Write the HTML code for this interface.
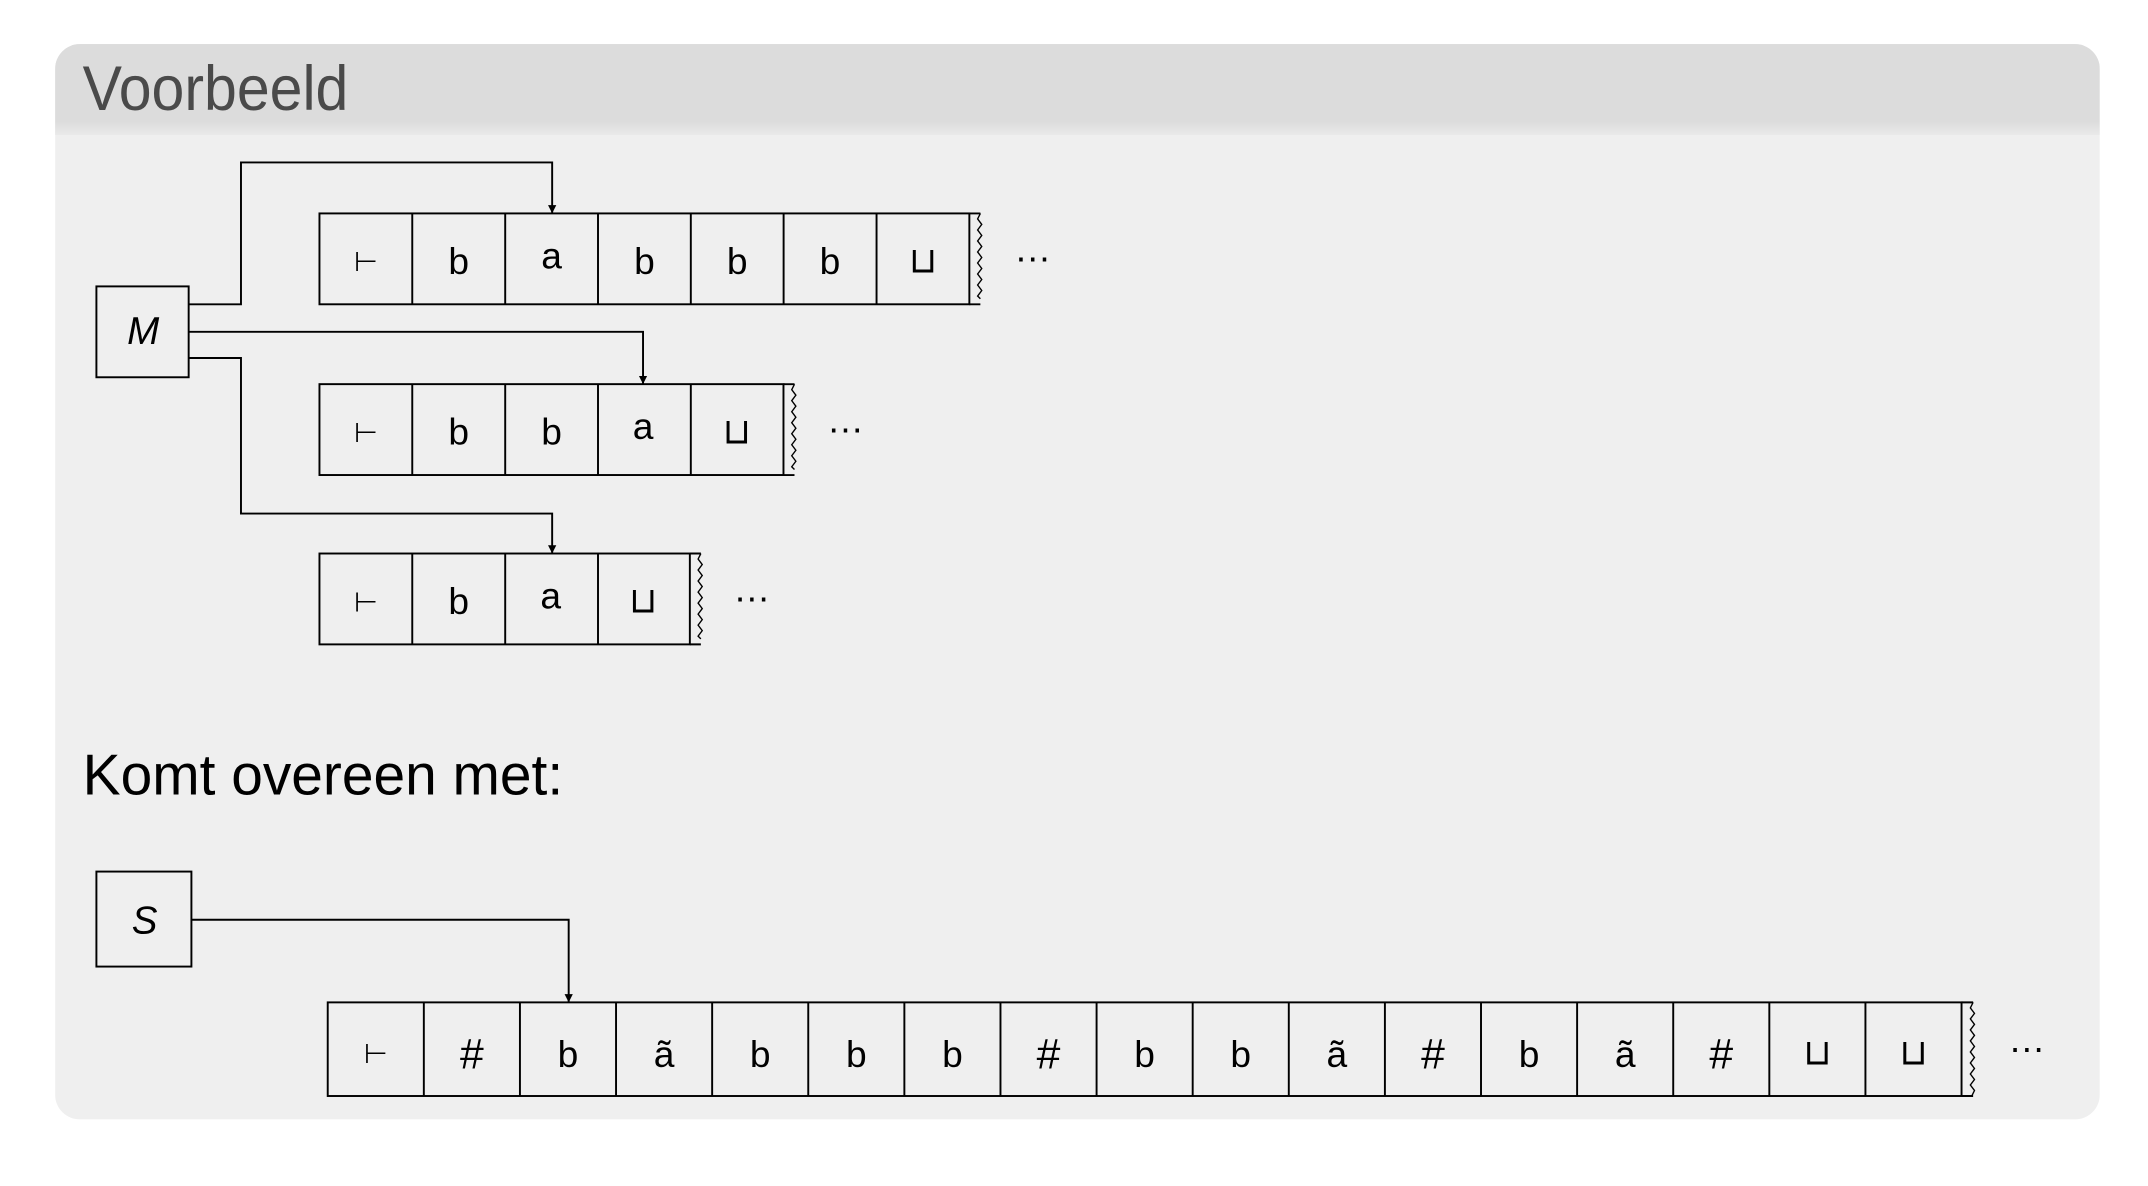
<!DOCTYPE html>
<html><head><meta charset="utf-8"><style>
html,body{margin:0;padding:0;background:#fff;}
svg{display:block;}
text{font-family:"Liberation Sans",sans-serif;}
</style></head><body>
<svg width="2148" height="1186" viewBox="0 0 1560 861.36" xmlns="http://www.w3.org/2000/svg">
<defs>
<linearGradient id="hg" x1="0" y1="0" x2="0" y2="1">
<stop offset="0" stop-color="#dcdcdc"/><stop offset="0.85" stop-color="#dcdcdc"/><stop offset="1" stop-color="#e9e9e9"/>
</linearGradient>
<clipPath id="pc"><rect x="40" y="32" width="1485" height="781" rx="18"/></clipPath>
<marker id="ar" viewBox="0 0 10 10" refX="10" refY="5" markerWidth="6" markerHeight="8" orient="auto" markerUnits="userSpaceOnUse">
<path d="M0,0 L10,5 L0,10 z" fill="#000"/></marker>
</defs>
<g clip-path="url(#pc)">
<rect x="40" y="32" width="1485" height="781" fill="#efefef"/>
<rect x="40" y="32" width="1485" height="66" fill="url(#hg)"/>
</g>
<text x="60" y="80" font-size="46" fill="#4a4a4a" textLength="193" lengthAdjust="spacingAndGlyphs">Voorbeeld</text>
<text x="60" y="577" font-size="42" fill="#000" textLength="349" lengthAdjust="spacingAndGlyphs">Komt overeen met:</text>

<g fill="none" stroke="#000" stroke-width="1.4">
<rect x="70" y="208" width="67" height="66"/>
<rect x="232" y="155" width="472" height="66"/>
<path d="M299.4,155V221M366.9,155V221M434.3,155V221M501.7,155V221M569.1,155V221M636.6,155V221"/>
<path d="M704,155H712M704,221H712"/>
<path stroke-width="1" d="M712,155l-2,4l3,4l-3,4l3,4l-3,4l3,4l-3,4l3,4l-3,4l3,4l-3,4l3,4l-3,4l3,4l-3,4l2,2"/>
<rect x="232" y="279" width="337" height="66"/>
<path d="M299.4,279V345M366.9,279V345M434.3,279V345M501.7,279V345"/>
<path d="M569,279H577M569,345H577"/>
<path stroke-width="1" d="M577,279l-2,4l3,4l-3,4l3,4l-3,4l3,4l-3,4l3,4l-3,4l3,4l-3,4l3,4l-3,4l3,4l-3,4l2,2"/>
<rect x="232" y="402" width="269" height="66"/>
<path d="M299.4,402V468M366.9,402V468M434.3,402V468"/>
<path d="M501,402H509M501,468H509"/>
<path stroke-width="1" d="M509,402l-2,4l3,4l-3,4l3,4l-3,4l3,4l-3,4l3,4l-3,4l3,4l-3,4l3,4l-3,4l3,4l-3,4l2,2"/>
<path d="M137,221H175V118H401V155" marker-end="url(#ar)"/>
<path d="M137,241H467V279" marker-end="url(#ar)"/>
<path d="M137,260H175V373H401V402" marker-end="url(#ar)"/>
<rect x="70" y="633" width="69" height="69"/>
<path d="M139,668H413V728" marker-end="url(#ar)"/>
<rect x="238" y="728" width="1186.6" height="68"/>
<path d="M307.8,728V796M377.6,728V796M447.4,728V796M517.2,728V796M587,728V796M656.8,728V796M726.6,728V796M796.4,728V796M866.2,728V796M936,728V796M1005.8,728V796M1075.6,728V796M1145.4,728V796M1215.2,728V796M1285,728V796M1354.8,728V796"/>
<path d="M1424.6,728H1433M1424.6,796H1433"/>
<path stroke-width="1" d="M1433,728l-2,4l3,4l-3,4l3,4l-3,4l3,4l-3,4l3,4l-3,4l3,4l-3,4l3,4l-3,4l3,4l-3,4l3,4l-2,4"/>
</g>

<g fill="#000" text-anchor="middle">
<text x="104" y="250" font-style="italic" font-size="28">M</text>
<text x="105" y="678" font-style="italic" font-size="28">S</text>
</g>
<g font-size="27" fill="#000" text-anchor="middle">
<text x="265.7" y="197" font-size="20">⊢</text>
<text x="333.1" y="199">b</text>
<text x="400.6" y="195">a</text>
<text x="468" y="199">b</text>
<text x="535.4" y="199">b</text>
<text x="602.8" y="199">b</text>
<text x="670.3" y="198" font-size="26">⊔</text>
<text x="750" y="190">…</text>
<text x="265.7" y="321" font-size="20">⊢</text>
<text x="333.1" y="323">b</text>
<text x="400.6" y="323">b</text>
<text x="467" y="319">a</text>
<text x="535" y="322" font-size="26">⊔</text>
<text x="614" y="314">…</text>
<text x="265.7" y="444" font-size="20">⊢</text>
<text x="333.1" y="446">b</text>
<text x="400" y="442">a</text>
<text x="467" y="445" font-size="26">⊔</text>
<text x="546" y="437">…</text>
<text x="272.9" y="772" font-size="20">⊢</text>
<text x="342.7" y="776" font-size="31">#</text>
<text x="412.5" y="775">b</text>
<text x="482.3" y="775">ã</text>
<text x="552.1" y="775">b</text>
<text x="621.9" y="775">b</text>
<text x="691.7" y="775">b</text>
<text x="761.5" y="776" font-size="31">#</text>
<text x="831.3" y="775">b</text>
<text x="901.1" y="775">b</text>
<text x="970.9" y="775">ã</text>
<text x="1040.7" y="776" font-size="31">#</text>
<text x="1110.5" y="775">b</text>
<text x="1180.3" y="775">ã</text>
<text x="1250.1" y="776" font-size="31">#</text>
<text x="1319.9" y="773" font-size="26">⊔</text>
<text x="1389.7" y="773" font-size="26">⊔</text>
<text x="1472" y="764">…</text>
</g>
</svg>
</body></html>
